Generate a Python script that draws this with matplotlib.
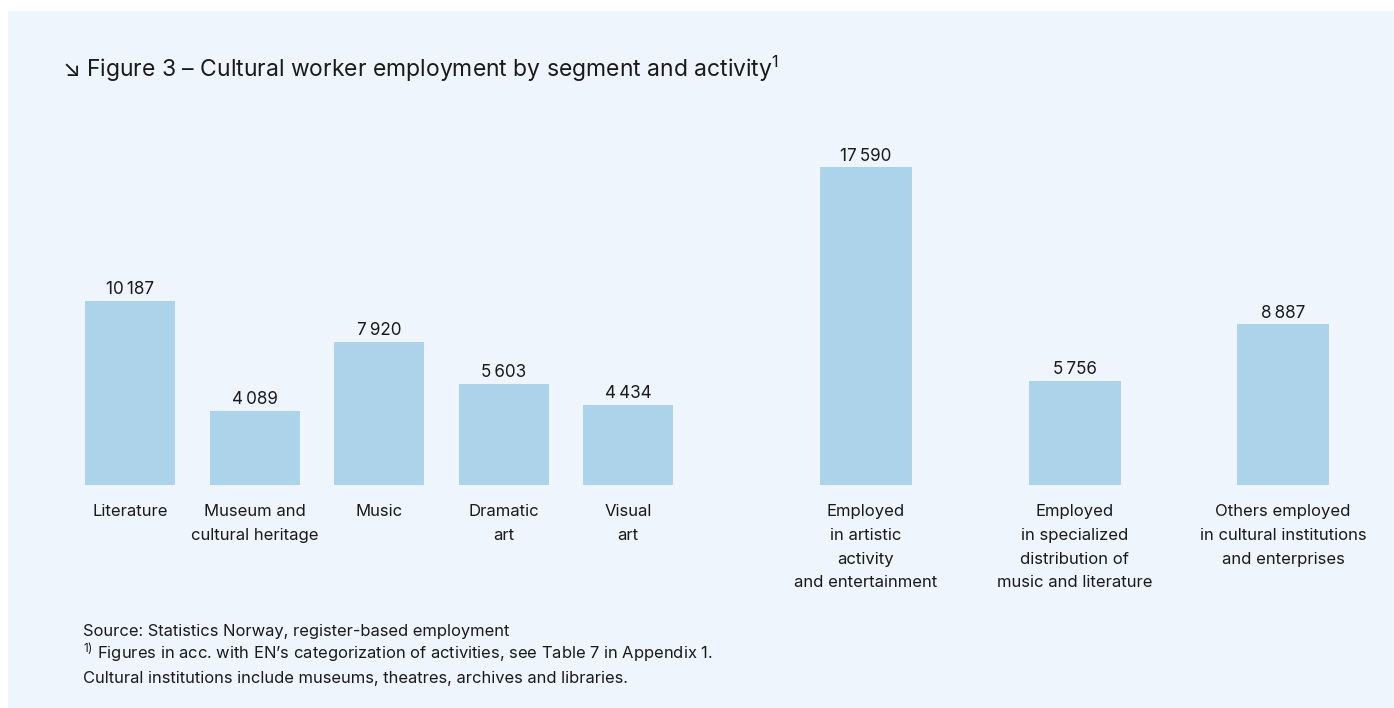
import matplotlib
matplotlib.use("Agg")
import matplotlib.pyplot as plt
from matplotlib.patches import Rectangle

# ---- data ----
segment_labels = ["Literature", "Museum and\ncultural heritage", "Music", "Dramatic\nart", "Visual\nart"]
segment_values = [10187, 4089, 7920, 5603, 4434]
activity_labels = ["Employed\nin artistic\nactivity\nand entertainment",
                   "Employed\nin specialized\ndistribution of\nmusic and literature",
                   "Others employed\nin cultural institutions\nand enterprises"]
activity_values = [17590, 5756, 8887]

title = "\u2198 Figure 3 \u2013 Cultural worker employment by segment and activity$^{1}$"
notes = ["Source: Statistics Norway, register-based employment",
         "$^{1)}$ Figures in acc. with EN\u2019s categorization of activities, see Table 7 in Appendix 1.",
         "Cultural institutions include museums, theatres, archives and libraries."]

FONT = ["Inter", "DejaVu Sans"]
plt.rcParams["font.family"] = FONT
plt.rcParams["mathtext.fontset"] = "custom"
plt.rcParams["mathtext.rm"] = "Inter"
plt.rcParams["mathtext.it"] = "Inter"
plt.rcParams["mathtext.default"] = "regular"

W, H = 1394, 708
fig = plt.figure(figsize=(W / 100, H / 100), dpi=100)
fig.patch.set_facecolor("white")
PANEL = "#EEF5FC"
BAR = "#ACD3EA"
TXT = "#1a1a1a"
fig.patches.append(Rectangle((8 / W, 0), 1 - 8 / W, 1 - 11 / H, transform=fig.transFigure,
                             facecolor=PANEL, edgecolor="none", zorder=-10))

# layout: left group slot unit = 124.5 px, first centre at 130 px
unit = 124.5
x0 = 130
left_pos = [i for i in range(len(segment_values))]
right_start = (866 - x0) / unit
right_step = 208.5 / unit
right_pos = [right_start + i * right_step for i in range(len(activity_values))]

base_px = 485
top_px = 100
ax = fig.add_axes([0, 1 - base_px / H, 1, (base_px - top_px) / H])
ax.set_facecolor("none")
ax.set_xlim(-x0 / unit, (W - x0) / unit)
px_per_unit = 184 / 10187
ax.set_ylim(0, (base_px - top_px) / px_per_unit)
ax.axis("off")

def draw(pos, vals, labels, width):
    ax.bar(pos, vals, width=width, color=BAR, linewidth=0)
    for p, v, lab in zip(pos, vals, labels):
        s = f"{v:,}".replace(",", "\u2009")
        ax.annotate(s, (p, v), xytext=(0, 2), textcoords="offset points",
                    ha="center", va="bottom", fontsize=12.3, color=TXT)
        ax.annotate(lab, (p, 0), xytext=(0, -14), textcoords="offset points",
                    ha="center", va="top", fontsize=12, color=TXT, linespacing=1.72)

draw(left_pos, segment_values, segment_labels, 90 / unit)
draw(right_pos, activity_values, activity_labels, 92 / unit)

fig.text(62 / W, 1 - 77 / H, title, fontsize=16.5, color=TXT, ha="left", va="baseline")
for i, n in enumerate(notes):
    fig.text(83 / W, 1 - (636 + 23.7 * i) / H, n, fontsize=11.9, color=TXT, ha="left", va="baseline")

fig.savefig("out.png", dpi=100, facecolor="white")
